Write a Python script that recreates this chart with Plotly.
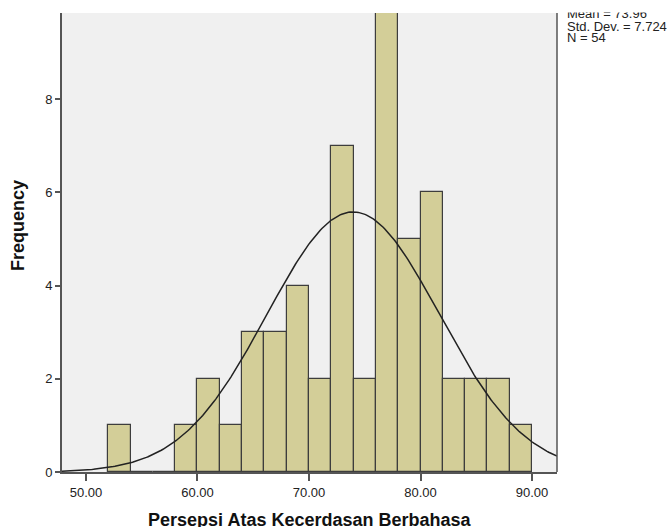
import numpy as np
import plotly.graph_objects as go

# Data
bin_lefts = [52, 54, 56, 58, 60, 62, 64, 66, 68, 70, 72, 74, 76, 78, 80, 82, 84, 86, 88]
counts = [1, 0, 0, 1, 2, 1, 3, 3, 4, 2, 7, 2, 10, 5, 6, 2, 2, 2, 1]
bin_width = 2
mean_val = 73.96
sd_val = 7.724
n_val = 54
x_tick_vals = [50, 60, 70, 80, 90]
x_tick_text = ["50.00", "60.00", "70.00", "80.00", "90.00"]
y_tick_vals = [0, 2, 4, 6, 8]

x_range = [47.85, 92.24]
y_range = [0, 9.845]

centers = [b + bin_width / 2 for b in bin_lefts]

fig = go.Figure()
fig.add_trace(go.Bar(
    x=centers, y=counts, width=[bin_width] * len(centers),
    marker=dict(color="#D3CE98", line=dict(color="#3d3d3d", width=1.2)),
    showlegend=False, hoverinfo="x+y",
))

xs = np.linspace(x_range[0], x_range[1], 300)
ys = n_val * bin_width / (sd_val * np.sqrt(2 * np.pi)) * np.exp(-0.5 * ((xs - mean_val) / sd_val) ** 2)
fig.add_trace(go.Scatter(x=xs, y=ys, mode="lines", line=dict(color="#222222", width=1.5),
                         showlegend=False, hoverinfo="skip"))

font_family = "Liberation Sans, Arial, sans-serif"

fig.update_layout(
    width=668, height=527,
    margin=dict(l=62, r=111, t=13, b=55),
    paper_bgcolor="white",
    plot_bgcolor="#F0F0F0",
    bargap=0,
    font=dict(family=font_family, color="#222222", size=13),
    xaxis=dict(range=x_range, tickvals=x_tick_vals, ticktext=x_tick_text,
               showgrid=False, zeroline=False, showline=True, linecolor="#555555", linewidth=2,
               ticks="outside", ticklen=7, tickcolor="#555555", tickwidth=1.5,
               tickfont=dict(size=13, color="#222222")),
    yaxis=dict(range=y_range, tickvals=y_tick_vals,
               showgrid=False, zeroline=False, showline=True, linecolor="#555555", linewidth=2,
               ticks="outside", ticklen=5, tickcolor="#555555", tickwidth=1.5,
               tickfont=dict(size=13, color="#222222")),
    shapes=[dict(type="line", xref="paper", yref="paper", x0=1, x1=1, y0=0, y1=1,
                 line=dict(color="#555555", width=1.5))],
)

ph = 527 - 13 - 55
pw = 668 - 62 - 111

def py(ypx):
    return (527 - 55 - ypx) / ph

def px(xpx):
    return (xpx - 62) / pw

stats = [("Mean = 73.96", 13), ("Std. Dev. = 7.724", 26), ("N = 54", 38)]
for txt, yc in stats:
    fig.add_annotation(text=txt, xref="paper", yref="paper", x=px(565), y=py(yc),
                       xanchor="left", yanchor="middle", showarrow=False,
                       font=dict(size=13, color="#222222", family=font_family))

# white band over the top edge (the reference is cropped there)
fig.add_annotation(text=" ", xref="paper", yref="paper", x=px(560), y=py(0),
                   xanchor="left", yanchor="top", showarrow=False,
                   width=108, height=11, bgcolor="white", borderpad=0,
                   font=dict(size=8))

fig.add_annotation(text="<b>Persepsi Atas Kecerdasan Berbahasa</b>", xref="paper", yref="paper",
                   x=px(309), y=py(520), xanchor="center", yanchor="middle", showarrow=False,
                   font=dict(size=18, color="#111111", family=font_family))
fig.add_annotation(text="<b>Frequency</b>", xref="paper", yref="paper",
                   x=px(18), y=py(226), xanchor="center", yanchor="middle", showarrow=False,
                   textangle=-90, font=dict(size=18, color="#111111", family=font_family))

fig.write_html("out.html", config={"displayModeBar": False},
               post_script="document.body.style.margin='0';document.body.style.overflow='hidden';")
